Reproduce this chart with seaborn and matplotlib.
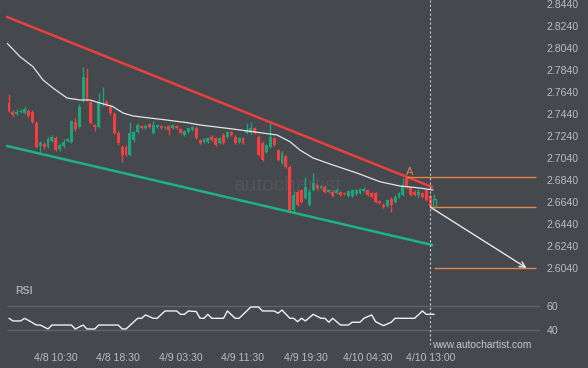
import numpy as np
import matplotlib
matplotlib.use("Agg")
import matplotlib.pyplot as plt
import seaborn as sns

# 30-min candles, index 0..109
opens = [2.7540, 2.7458, 2.7440, 2.7458, 2.7449, 2.7467, 2.7458, 2.7358, 2.7149, 2.7167,
         2.7140, 2.7194, 2.7222, 2.7122, 2.7149, 2.7194, 2.7185, 2.7367, 2.7322, 2.7567,
         2.7767, 2.7549, 2.7340, 2.7322, 2.7531, 2.7549, 2.7503, 2.7440, 2.7267, 2.7140,
         2.7140, 2.7067, 2.7203, 2.7276, 2.7331, 2.7312, 2.7349, 2.7267, 2.7322, 2.7331,
         2.7312, 2.7331, 2.7312, 2.7331, 2.7303, 2.7249, 2.7276, 2.7294, 2.7312, 2.7203,
         2.7185, 2.7185, 2.7231, 2.7222, 2.7176, 2.7249, 2.7231, 2.7276, 2.7231, 2.7185,
         2.7222, 2.7267, 2.7267, 2.7312, 2.7231, 2.7176, 2.7094, 2.7140, 2.7222, 2.7112,
         2.6994, 2.7058, 2.6958, 2.6567, 2.6731, 2.6749, 2.6676, 2.6612, 2.6749, 2.6794,
         2.6767, 2.6776, 2.6731, 2.6731, 2.6722, 2.6731, 2.6722, 2.6694, 2.6694, 2.6712,
         2.6722, 2.6740, 2.6749, 2.6722, 2.6722, 2.6649, 2.6612, 2.6603, 2.6667, 2.6640,
         2.6685, 2.6703, 2.6858, 2.6776, 2.6731, 2.6703, 2.6722, 2.6749, 2.6694, 2.6594]
highs = [2.7622, 2.7476, 2.7485, 2.7485, 2.7512, 2.7485, 2.7476, 2.7376, 2.7194, 2.7185,
         2.7231, 2.7249, 2.7240, 2.7176, 2.7212, 2.7222, 2.7385, 2.7403, 2.7531, 2.7867,
         2.7858, 2.7567, 2.7349, 2.7631, 2.7685, 2.7567, 2.7531, 2.7458, 2.7285, 2.7158,
         2.7158, 2.7367, 2.7285, 2.7358, 2.7340, 2.7349, 2.7358, 2.7376, 2.7349, 2.7340,
         2.7331, 2.7340, 2.7349, 2.7340, 2.7312, 2.7294, 2.7322, 2.7331, 2.7331, 2.7212,
         2.7222, 2.7231, 2.7249, 2.7231, 2.7231, 2.7267, 2.7285, 2.7285, 2.7249, 2.7231,
         2.7231, 2.7358, 2.7367, 2.7322, 2.7249, 2.7194, 2.7167, 2.7358, 2.7231, 2.7122,
         2.7103, 2.7067, 2.6976, 2.6740, 2.6749, 2.6758, 2.6867, 2.6758, 2.6903, 2.6803,
         2.6794, 2.6794, 2.6758, 2.6749, 2.6767, 2.6740, 2.6731, 2.6749, 2.6758, 2.6758,
         2.6767, 2.6776, 2.6758, 2.6731, 2.6731, 2.6658, 2.6631, 2.6667, 2.6685, 2.6703,
         2.6731, 2.6858, 2.6867, 2.6785, 2.6749, 2.6767, 2.6731, 2.6758, 2.6712, 2.6712]
lows = [2.7458, 2.7412, 2.7431, 2.7449, 2.7440, 2.7412, 2.7358, 2.7131, 2.7085, 2.7122,
        2.7131, 2.7185, 2.7103, 2.7103, 2.7131, 2.7185, 2.7176, 2.7285, 2.7312, 2.7549,
        2.7558, 2.7349, 2.7285, 2.7312, 2.7512, 2.7512, 2.7431, 2.7258, 2.7158, 2.7003,
        2.7058, 2.7058, 2.7185, 2.7267, 2.7303, 2.7303, 2.7312, 2.7258, 2.7312, 2.7303,
        2.7303, 2.7249, 2.7303, 2.7303, 2.7258, 2.7240, 2.7267, 2.7285, 2.7212, 2.7167,
        2.7176, 2.7176, 2.7194, 2.7149, 2.7167, 2.7167, 2.7222, 2.7240, 2.7167, 2.7176,
        2.7167, 2.7258, 2.7258, 2.7258, 2.7058, 2.7012, 2.7085, 2.7131, 2.7149, 2.7012,
        2.6985, 2.6949, 2.6558, 2.6549, 2.6603, 2.6631, 2.6667, 2.6603, 2.6740, 2.6749,
        2.6758, 2.6722, 2.6722, 2.6685, 2.6712, 2.6694, 2.6703, 2.6685, 2.6685, 2.6703,
        2.6712, 2.6731, 2.6694, 2.6676, 2.6631, 2.6622, 2.6585, 2.6594, 2.6549, 2.6631,
        2.6676, 2.6694, 2.6767, 2.6694, 2.6694, 2.6676, 2.6676, 2.6649, 2.6590, 2.6590]
closes = [2.7467, 2.7431, 2.7458, 2.7467, 2.7485, 2.7422, 2.7367, 2.7140, 2.7176, 2.7140,
          2.7212, 2.7231, 2.7112, 2.7158, 2.7185, 2.7212, 2.7376, 2.7303, 2.7503, 2.7776,
          2.7567, 2.7358, 2.7322, 2.7540, 2.7540, 2.7522, 2.7449, 2.7267, 2.7176, 2.7067,
          2.7067, 2.7267, 2.7276, 2.7340, 2.7312, 2.7331, 2.7322, 2.7340, 2.7340, 2.7312,
          2.7322, 2.7294, 2.7340, 2.7312, 2.7267, 2.7285, 2.7312, 2.7322, 2.7222, 2.7176,
          2.7212, 2.7222, 2.7203, 2.7158, 2.7222, 2.7176, 2.7276, 2.7249, 2.7176, 2.7222,
          2.7176, 2.7294, 2.7312, 2.7267, 2.7067, 2.7022, 2.7158, 2.7231, 2.7158, 2.7022,
          2.7085, 2.6958, 2.6567, 2.6703, 2.6612, 2.6640, 2.6776, 2.6731, 2.6812, 2.6767,
          2.6785, 2.6731, 2.6749, 2.6694, 2.6749, 2.6703, 2.6712, 2.6740, 2.6749, 2.6749,
          2.6758, 2.6758, 2.6703, 2.6685, 2.6640, 2.6631, 2.6594, 2.6658, 2.6612, 2.6685,
          2.6722, 2.6794, 2.6776, 2.6703, 2.6703, 2.6731, 2.6685, 2.6658, 2.6594, 2.6667]

# moving average line (candle index, price)
ma_idx = [-0.44, 2.82, 6.15, 8.72, 11.28, 14.87, 18.2, 20.77, 23.33, 26.67, 29.23, 31.8,
          36.15, 40.5, 45.64, 48.97, 57.44, 62.56, 68.72, 72.05, 74.6, 77.95, 83.08,
          89.23, 95.13, 100.26, 105.38, 108.72]
ma_val = [2.8082, 2.7961, 2.7870, 2.7749, 2.7676, 2.7585, 2.7567, 2.7567, 2.7540, 2.7506,
          2.7449, 2.7422, 2.7403, 2.7385, 2.7361, 2.7340, 2.7303, 2.7279, 2.7249, 2.7188,
          2.7112, 2.7040, 2.6976, 2.6903, 2.6824, 2.6785, 2.6767, 2.6749]

# RSI
rsi_idx = [0, 1, 3, 4, 6, 7, 8, 10, 11, 16, 17, 19, 20, 22, 23, 28, 29, 30, 33, 34, 35, 37,
           38, 40, 43, 44, 45, 46, 48, 49, 50, 51, 52, 55, 56, 58, 59, 62, 64, 65, 68, 69,
           70, 72, 73, 74, 75, 76, 78, 80, 81, 82, 83, 85, 87, 88, 90, 91, 93, 94, 96, 98,
           99, 104, 106, 107, 109]
rsi_val = [50, 47.8, 47.8, 50, 46.4, 44.4, 44.4, 41.1, 44.4, 44.4, 41.1, 44.4, 41.1, 41.1,
           44.4, 44.4, 41.1, 41.1, 50, 50, 52.8, 50, 50, 56.1, 56.1, 53.3, 53.3, 56.1, 55.6,
           50, 50, 53.3, 50, 50, 56.1, 50, 50, 59.4, 59.4, 56.1, 56.1, 54.2, 56.9, 50, 50,
           47.2, 50, 47.8, 53.3, 50, 50, 46.7, 50, 44.4, 44.4, 46.7, 46.7, 50, 52.8, 47.2,
           43.9, 46.7, 50, 50, 56.1, 53.3, 53.3]

# channel lines (index, price)
resist_idx = [-0.5, 108.5]
resist_val = [2.8322, 2.6776]
support_idx = [-0.5, 108.5]
support_val = [2.7149, 2.6249]

# pattern levels
level_a = 2.6865
level_last = 2.6592
level_target = 2.6040
forecast_end = 132.7

tick_idx = [12, 28, 44, 60, 76, 92, 108]
tick_lbl = ["4/8 10:30", "4/8 18:30", "4/9 03:30", "4/9 11:30", "4/9 19:30",
            "4/10 04:30", "4/10 13:00"]
price_ticks = [2.6040 + 0.02 * k for k in range(13)]

BG = "#45484d"
UP = "#1ea37a"
DN = "#f23f3f"
TXT = "#b9bcc0"
ORANGE = "#e8844a"

sns.set_theme(style="dark", rc={"axes.facecolor": BG, "figure.facecolor": BG})
plt.rcParams["font.family"] = ["Liberation Sans", "DejaVu Sans"]

fig = plt.figure(figsize=(5.88, 3.68), dpi=100)
W, H = 588, 368
ax = fig.add_axes([0, 1 - 282 / H, 540 / W, 282 / H])
ax_rsi = fig.add_axes([0, 1 - 345 / H, 540 / W, 63 / H])

xmin, xmax = -9 / 3.9, (540 - 9) / 3.9
n = len(opens)
idx = np.arange(n)
o = np.array(opens); c = np.array(closes)
h = np.array(highs); l = np.array(lows)
up = c >= o
cols = np.where(up, UP, DN)

# watermark
ax.text(71.3, 2.6794, "autochartist", color="#515459", fontsize=15,
        ha="center", va="center", zorder=0)

ax.vlines(idx, l, h, colors=cols, linewidth=1, zorder=2)
body = np.maximum(np.abs(c - o), 0.0009)
ax.bar(idx[:-1], body[:-1], bottom=np.minimum(o, c)[:-1], width=0.75,
       color=cols[:-1], linewidth=0, zorder=3)
ax.bar(idx[-1:], body[-1:], bottom=np.minimum(o, c)[-1:], width=0.75,
       facecolor=BG, edgecolor=UP, linewidth=1, zorder=3)

sns.lineplot(x=ma_idx, y=ma_val, ax=ax, color="#e4e4e4", linewidth=0.9, zorder=4)
sns.lineplot(x=resist_idx, y=resist_val, ax=ax, color="#e8403f", linewidth=1.8, zorder=5)
sns.lineplot(x=support_idx, y=support_val, ax=ax, color="#1db386", linewidth=1.8, zorder=5)

ax.hlines(level_a, 102, 135.1, color=ORANGE, linewidth=1, zorder=5)
ax.hlines(level_last, 108, 135.1, color=ORANGE, linewidth=1, zorder=5)
ax.hlines(level_target, 109, 135.1, color=ORANGE, linewidth=1, zorder=5)
ax.text(102.8, 2.6915, "A", color=ORANGE, fontsize=8, ha="center", va="center")
ax.annotate("", xy=(forecast_end, level_target), xytext=(108.1, level_last),
            arrowprops=dict(arrowstyle="->", color="#e6e6e6", lw=1, mutation_scale=10,
                            shrinkA=0, shrinkB=0), zorder=6)

ax.axvline(108, color="#c8c8c8", linewidth=0.8, linestyle=(0, (2, 2)), zorder=6)
ax_rsi.axvline(108, color="#c8c8c8", linewidth=0.8, linestyle=(0, (2, 2)), zorder=6)

ax.set_xlim(xmin, xmax)
ax.set_ylim(2.8476 - 282 * 0.000909, 2.8476)
ax.set_yticks(price_ticks)
ax.set_yticklabels([f"{p:.4f}" for p in price_ticks])
ax.yaxis.tick_right()
ax.set_xticks([])
ax.tick_params(axis="y", length=0, pad=5, labelsize=7.6, labelcolor=TXT)

# RSI panel
ax_rsi.hlines([40, 60], -0.5, xmax, color="#5f6267", linewidth=1, zorder=1)
sns.lineplot(x=rsi_idx, y=rsi_val, ax=ax_rsi, color="#f0f0f0", linewidth=1, zorder=3)
ax_rsi.set_xlim(xmin, xmax)
ax_rsi.set_ylim(40 - (345 - 330.3) / 1.2, 60 + (306.3 - 282) / 1.2)
ax_rsi.set_yticks([40, 60])
ax_rsi.yaxis.tick_right()
ax_rsi.set_xticks(tick_idx)
ax_rsi.set_xticklabels(tick_lbl)
ax_rsi.tick_params(axis="both", length=0, labelsize=7.6, labelcolor=TXT)
ax_rsi.tick_params(axis="x", pad=6)
ax_rsi.tick_params(axis="y", pad=5)

for a in (ax, ax_rsi):
    a.grid(False)
    a.set_xlabel("")
    a.set_ylabel("")
    for s in a.spines.values():
        s.set_visible(False)

fig.text(15 / W, 1 - 291 / H, "RSI", color="#a3a6ab", fontsize=7.6,
         fontweight="bold", va="center", ha="left")
fig.text(432 / W, 1 - 345 / H, "www.autochartist.com", color="#c2c5c9",
         fontsize=7.4, va="center", ha="left")

fig.savefig("out.png", dpi=100, facecolor=BG)
